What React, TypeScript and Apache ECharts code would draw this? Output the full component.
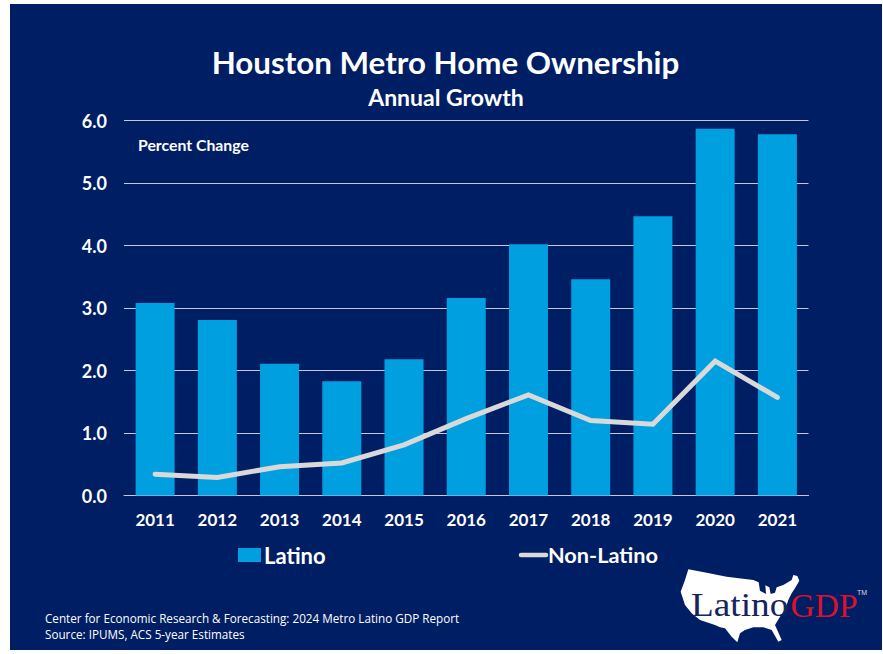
import React, { useEffect, useRef } from "react";
import * as echarts from "echarts";

const years = ["2011", "2012", "2013", "2014", "2015", "2016", "2017", "2018", "2019", "2020", "2021"];
const latino = [3.08, 2.81, 2.11, 1.83, 2.18, 3.16, 4.02, 3.46, 4.47, 5.87, 5.78];
const nonLatino = [0.34, 0.29, 0.46, 0.52, 0.81, 1.23, 1.61, 1.2, 1.14, 2.15, 1.57];

const FONT = "Lato, 'Open Sans', sans-serif";
const NAVY = "#001e64";
const BLUE = "#009fe0";
const GREY = "#d9d9d9";

const usOutline = [
  [85, 58], [140, 68], [200, 80], [280, 90], [296, 97], [300, 122], [318, 132], [316, 106], [328, 112], [332, 132], [345, 128], [350, 112], [370, 105], [395, 90], [400, 75],
  [412, 78], [418, 92], [405, 115], [395, 130], [385, 150], [375, 180], [360, 200], [345, 225], [365, 270], [355, 275],
  [335, 240], [310, 232], [280, 232], [255, 240], [240, 250], [232, 277], [215, 260], [195, 235], [180, 232], [165, 225], [120, 210], [95, 190],
  [75, 165], [62, 125], [75, 90],
].map(([x, y]) => [660 + x / 3, 550 + y / 3]);

const text = (x: number, y: number, t: string, size: number, extra: any = {}) => ({
  type: "text",
  x,
  y,
  silent: true,
  z: 10,
  scaleX: extra.scaleX ?? 1,
  style: { text: t, fill: "#ffffff", font: `${extra.weight ?? "bold"} ${size}px ${extra.family ?? FONT}`, textAlign: extra.align ?? "left", textVerticalAlign: "middle", ...(extra.style ?? {}) },
});

export default function App() {
  const ref = useRef<HTMLDivElement>(null);
  useEffect(() => {
    document.body.style.margin = "0";
    document.body.style.background = "#ffffff";
    const chart = echarts.init(ref.current!, null, { renderer: "svg" });
    chart.setOption({
      animation: false,
      backgroundColor: "#ffffff",
      grid: { left: 124, right: 74.5, top: 120.5, bottom: 158.5, containLabel: false },
      legend: { show: false },
      xAxis: {
        type: "category",
        data: years,
        axisLine: { lineStyle: { color: "#c9c6dc", width: 1 } },
        axisTick: { show: false },
        axisLabel: { color: "#ffffff", fontFamily: FONT, fontWeight: "bold", fontSize: 17, margin: 15 },
      },
      yAxis: {
        type: "value",
        min: 0,
        max: 6,
        interval: 1,
        axisLine: { show: false },
        axisTick: { show: false },
        splitLine: { lineStyle: { color: "#c9c6dc", width: 1 } },
        axisLabel: { color: "#ffffff", fontFamily: FONT, fontWeight: "bold", fontSize: 18, margin: 17, formatter: (v: number) => v.toFixed(1) },
      },
      series: [
        { name: "Latino", type: "bar", data: latino, barWidth: 39, itemStyle: { color: BLUE }, z: 3 },
        { name: "Non-Latino", type: "line", data: nonLatino, symbol: "none", lineStyle: { color: GREY, width: 5, join: "miter", cap: "round" }, z: 4 },
      ],
      graphic: [
        { type: "rect", shape: { x: 10, y: 4, width: 872, height: 646 }, style: { fill: NAVY }, silent: true, z: -10 },
        text(445.5, 62, "Houston Metro Home Ownership", 31.3, { align: "center" }),
        text(446, 96.5, "Annual Growth", 23, { align: "center" }),
        text(138, 144.5, "Percent Change", 15.8),
        { type: "rect", shape: { x: 238, y: 548, width: 23, height: 14 }, style: { fill: BLUE }, silent: true, z: 10 },
        text(264, 555, "Latino", 22),
        { type: "line", shape: { x1: 521, y1: 555, x2: 546, y2: 555 }, style: { stroke: GREY, lineWidth: 4.5, lineCap: "round" }, silent: true, z: 10 },
        text(548, 555, "Non-Latino", 21.7),
        text(45, 618, "Center for Economic Research & Forecasting: 2024 Metro Latino GDP Report", 11.7, { weight: "normal", family: "'Open Sans', sans-serif" }),
        text(45, 634, "Source: IPUMS, ACS 5-year Estimates", 11.7, { weight: "normal", family: "'Open Sans', sans-serif" }),
        { type: "polygon", shape: { points: usOutline }, style: { fill: "#ffffff" }, silent: true, z: 9 },
        text(691, 605, "Latino", 33, { weight: "normal", family: "'Liberation Serif', serif", scaleX: 1.13, style: { fill: "#14245f" } }),
        text(790.5, 605, "GDP", 33.5, { weight: "normal", family: "'Liberation Serif', serif", style: { fill: "#d9122e" } }),
        text(857, 592, "TM", 7, { weight: "normal", family: "'Liberation Sans', sans-serif", style: { fill: "#dddddd" } }),
      ],
    });
    return () => chart.dispose();
  }, []);
  return <div ref={ref} style={{ width: 883, height: 654 }} />;
}
